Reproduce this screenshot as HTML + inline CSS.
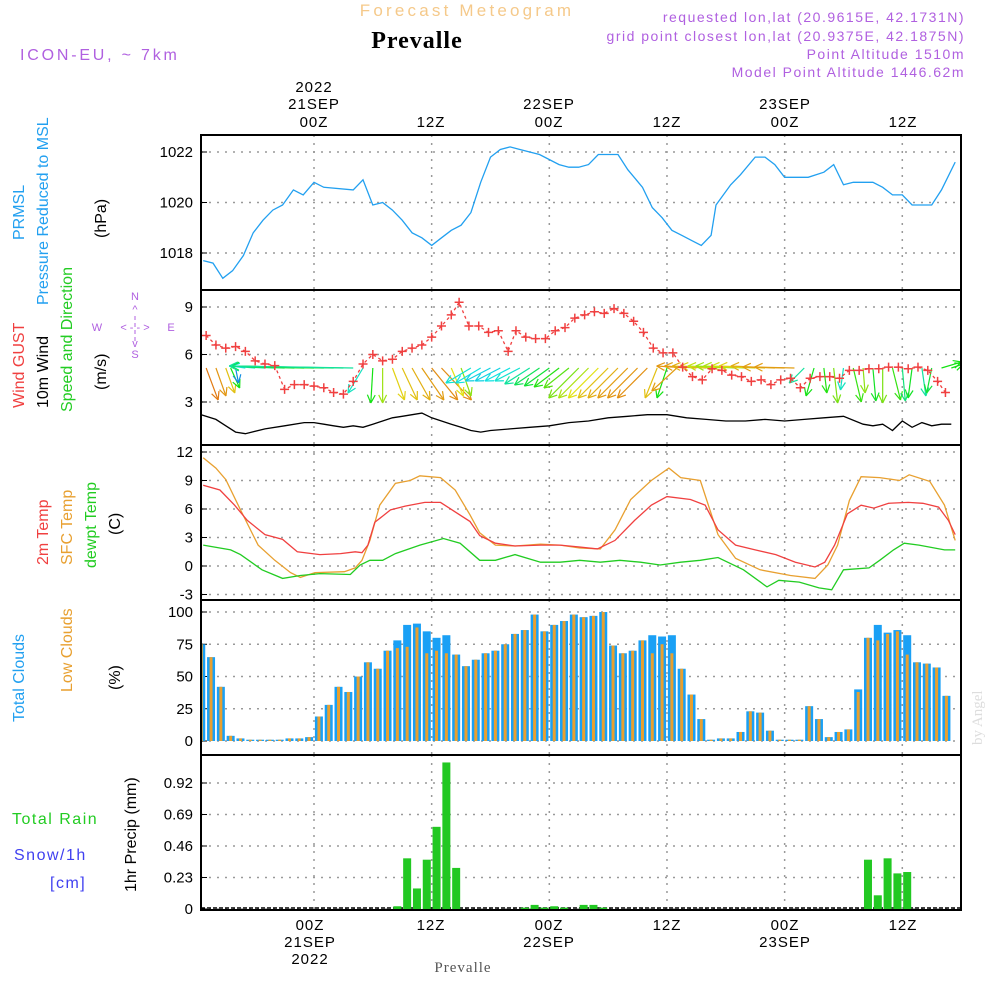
<!DOCTYPE html>
<html><head><meta charset="utf-8"><style>
html,body{margin:0;padding:0;background:#fff;}
svg{display:block;font-family:"Liberation Sans",sans-serif;}
</style></head><body>
<svg id="chart" width="1000" height="1000" viewBox="0 0 1000 1000" xmlns="http://www.w3.org/2000/svg">
<text x="467" y="16" font-size="17" fill="#f5c98a" text-anchor="middle" letter-spacing="3.2">Forecast Meteogram</text>
<text x="417" y="48" font-size="24" font-weight="bold" font-family="Liberation Serif,serif" text-anchor="middle" letter-spacing="1">Prevalle</text>
<text x="20" y="60" font-size="16" fill="#b060e0" letter-spacing="2.8">ICON-EU, ~ 7km</text>
<g font-size="14" fill="#b060e0" text-anchor="end" letter-spacing="1.5">
<text x="965" y="22">requested lon,lat (20.9615E, 42.1731N)</text>
<text x="965" y="41">grid point closest lon,lat (20.9375E, 42.1875N)</text>
<text x="965" y="59">Point Altitude 1510m</text>
<text x="965" y="77">Model Point Altitude 1446.62m</text>
</g>
<g font-size="15" text-anchor="middle" letter-spacing="1">
<text x="314" y="92">2022</text><text x="314" y="109">21SEP</text><text x="314" y="127">00Z</text>
<text x="431" y="127">12Z</text>
<text x="549" y="109">22SEP</text><text x="549" y="127">00Z</text>
<text x="667" y="127">12Z</text>
<text x="785" y="109">23SEP</text><text x="785" y="127">00Z</text>
<text x="903" y="127">12Z</text>
</g>
<g font-size="15" text-anchor="middle" letter-spacing="1">
<text x="310" y="930">00Z</text><text x="310" y="947">21SEP</text><text x="310" y="964">2022</text>
<text x="431" y="930">12Z</text>
<text x="549" y="930">00Z</text><text x="549" y="947">22SEP</text>
<text x="667" y="930">12Z</text>
<text x="785" y="930">00Z</text><text x="785" y="947">23SEP</text>
<text x="903" y="930">12Z</text>
</g>
<text x="463" y="972" font-size="15" font-family="Liberation Serif,serif" fill="#555" text-anchor="middle" letter-spacing="1">Prevalle</text>
<text transform="translate(982,745) rotate(-90)" font-size="15" font-family="Liberation Serif,serif" fill="#ddd">by Angel</text>
<g font-size="16">
<text transform="translate(24,240) rotate(-90)" fill="#22a0f0">PRMSL</text>
<text transform="translate(48,305) rotate(-90)" fill="#22a0f0">Pressure Reduced to MSL</text>
<text transform="translate(106,238) rotate(-90)">(hPa)</text>
<text transform="translate(24,408) rotate(-90)" fill="#f04040">Wind GUST</text>
<text transform="translate(48,408) rotate(-90)">10m Wind</text>
<text transform="translate(72,412) rotate(-90)" fill="#22cc22">Speed and Direction</text>
<text transform="translate(106,390) rotate(-90)">(m/s)</text>
<text transform="translate(48,565) rotate(-90)" fill="#f04040">2m Temp</text>
<text transform="translate(72,565) rotate(-90)" fill="#e8a030">SFC Temp</text>
<text transform="translate(96,568) rotate(-90)" fill="#22cc22">dewpt Temp</text>
<text transform="translate(120,535) rotate(-90)">(C)</text>
<text transform="translate(24,722) rotate(-90)" fill="#22a0f0">Total Clouds</text>
<text transform="translate(72,692) rotate(-90)" fill="#e8a030">Low Clouds</text>
<text transform="translate(120,690) rotate(-90)">(%)</text>
<text x="12" y="824" fill="#22cc22" letter-spacing="1.5">Total  Rain</text>
<text x="14" y="860" fill="#4040f0" letter-spacing="1.5">Snow/1h</text>
<text x="50" y="888" fill="#4040f0" letter-spacing="1.5">[cm]</text>
<text transform="translate(136,892) rotate(-90)">1hr Precip (mm)</text>
</g>
<g font-size="11" fill="#b060e0" text-anchor="middle">
<text x="135" y="300">N</text><text x="135" y="313">^</text>
<text x="97" y="331">W</text><text x="135" y="331">&lt; -  -  &gt;</text><text x="171" y="331">E</text>
<text x="135" y="347">v</text><text x="135" y="358">S</text>
<line x1="135" y1="316" x2="135" y2="342" stroke="#b060e0" stroke-width="1" stroke-dasharray="4,3"/>
</g>
<g id="plots"></g>
</svg>
<script>
// ---- data (time in hours from 00Z 21SEP) ----
const pressHours=[-11.3,-10.3,-9.3,-8.3,-7.2,-6.2,-5.2,-4.2,-3.2,-2.1,-1.1,0,1,4,5,6,7,8,9,10,11,12,13,14,15,16,17,18,19,20,21,23,25,26,27,28,29,31,32,33.5,34.5,35.5,36.5,37.5,38.5,39.5,40.5,41,42.5,43.5,45,46,47,48,50.4,52,53,54,55,57,58,59,60,61,62,63,64,65.4];
const pressVals=[1017.7,1017.6,1017.0,1017.3,1017.9,1018.8,1019.3,1019.7,1019.9,1020.5,1020.3,1020.8,1020.6,1020.5,1020.9,1019.9,1020.0,1019.7,1019.3,1018.8,1018.6,1018.3,1018.6,1018.9,1019.1,1019.6,1020.8,1021.8,1022.1,1022.2,1022.1,1021.9,1021.5,1021.4,1021.4,1021.5,1021.9,1021.9,1021.3,1020.6,1019.8,1019.4,1018.9,1018.7,1018.5,1018.3,1018.7,1019.9,1020.7,1021.1,1021.8,1021.8,1021.5,1021.0,1021.0,1021.2,1021.5,1020.7,1020.8,1020.8,1020.6,1020.3,1020.3,1019.9,1019.9,1019.9,1020.5,1021.6];
const pressTicks=[1018,1020,1022];

const gustHours=[-11,-10,-9,-8,-7,-6,-5,-4,-3,-2,-1,0,1,2,3,4,5,6,7,8,9,10,11,12,13,14,14.8,15.8,16.8,17.8,18.8,19.8,20.6,21.6,22.6,23.6,24.6,25.6,26.6,27.6,28.6,29.6,30.6,31.6,32.6,33.6,34.6,35.6,36.6,37.6,38.6,39.6,40.6,41.6,42.6,43.6,44.6,45.6,46.6,47.6,48.6,49.6,50.6,51.6,52.6,53.6,54.6,55.6,56.6,57.6,58.6,59.6,60.6,61.6,62.6,63.6,64.4];
const gustVals=[7.2,6.6,6.4,6.5,6.2,5.6,5.4,5.3,3.8,4.1,4.1,4.0,3.9,3.6,3.5,4.3,5.4,6.0,5.6,5.7,6.2,6.4,6.6,7.1,7.8,8.5,9.3,7.8,7.8,7.4,7.5,6.2,7.5,7.1,7.0,7.0,7.5,7.7,8.3,8.5,8.7,8.6,8.9,8.6,8.1,7.4,6.4,6.1,6.1,5.2,4.6,4.4,5.1,5.0,4.7,4.6,4.3,4.4,4.1,4.4,4.5,3.9,4.5,4.6,4.6,4.5,5.0,5.0,5.1,5.1,5.2,5.2,5.1,5.2,5.0,4.3,3.6];
const windHours=[-11.5,-10,-9,-8,-7,-5,-3,-1,0,1,2,3,4,5,6,7,8,9,10,11,12,13,14,15,16,17,18,20,22,24,26,28,30,32,34,36,38,40,42,44,46,48,50,52,54,56,57,58,59,60,61,62,63,64,65];
const windVals=[2.2,1.9,1.5,1.1,1.0,1.3,1.5,1.7,1.7,1.6,1.5,1.4,1.5,1.4,1.6,1.8,2.0,2.1,2.2,2.3,2.0,1.8,1.6,1.4,1.2,1.1,1.2,1.3,1.4,1.5,1.7,1.8,2.0,2.1,2.2,2.2,2.0,1.9,1.8,1.8,1.9,1.8,1.9,2.0,2.1,1.6,1.5,1.6,1.2,1.8,1.4,1.7,1.5,1.6,1.6];
const windTicks=[3,6,9];
// wind vectors: u (east), v (north), m/s-ish; hue of arrow
const arrowHours=[-11,-10,-9,-8.5,-8,-7,-6,-5,-4,-3,-2,-1,0,1,2,3,4,5,6,7,8,9,10,11,12,13,14,15,16,17,18,19,20,21,22,23,24,25,26,27,28,29,30,31,32,33,34,35,36,37,38,39,40,41,42,43,44,45,46,47,48,49,50,51,52,53,54,55,56,57,58,59,60,61,62,63,64,65];
const arrowU=[1.2,1.0,0.9,0.9,0.3,-1.4,-2.4,-3.4,-4.4,-5.4,-6.4,-7.4,-8.4,-9.4,-10.4,-11.4,-12.4,-1.5,-0.2,0,1.2,1.5,1.8,2.2,2.6,3.0,1.2,1.0,-2.5,-2.5,-2.5,-2.5,-2.5,-2.5,-2.5,-2.5,-2.5,-2.5,-2.5,-3,-3,-3,-3,-3,-3,-3,-3,-1.2,-1,-2.5,-3,-3.2,-3.4,-3.6,-3.8,-4,-4.2,-4.4,-4.6,-4.4,-4.2,-4,-1.5,-0.8,0.3,0.4,-0.3,0.8,0.2,0.3,0,0.8,0.3,-0.4,0.4,-0.5,2,1.2];
const arrowV=[-3.2,-2.8,-2.5,-2.0,-1.5,0.2,0.2,0.2,0.2,0.2,0.2,0.2,0.2,0.2,0.2,0.2,0.2,-2.5,-3.5,-3.5,-3.2,-3.2,-3.2,-3.2,-3.2,-3.2,-2.8,-2.8,-1.5,-1.5,-1.3,-1.3,-1.3,-1.3,-1.6,-1.7,-1.8,-1.9,-2,-3,-3,-3,-3,-3,-3,-3,-3,-3,-3,-2.3,0.2,0.2,0.2,0.2,0.2,0.2,0.2,0.2,0.2,0.2,0.1,0.1,-1.5,-2.8,-2.5,-3.5,-2.2,-3.4,-2.5,-3.3,-3.5,-3.2,-3.3,-3,-2.8,-2.5,0.6,0.4];
const arrowHue=[30,38,50,120,205,180,175,165,150,140,130,125,120,125,135,145,160,170,120,80,55,50,45,40,35,35,60,85,175,180,185,185,180,175,160,140,130,115,100,90,75,60,50,45,40,38,36,50,120,40,38,40,45,55,70,80,75,65,55,45,40,40,160,120,115,90,170,110,85,125,90,110,150,125,160,130,120,120];

const tempHours=[-11.3,-9.6,-8.1,-6.8,-5.0,-3.2,-1.7,0.6,2.7,4.2,4.9,5.5,6.2,7.8,9.3,11.3,12.9,14.4,15.9,16.9,18.5,20.5,23.1,25.1,27.1,28.9,30.7,32.7,34.4,36.0,38.4,39.9,41.2,43.0,45.0,47.1,49.1,51.1,52.1,53.1,54.4,55.8,57.1,58.6,60.6,62.1,63.7,64.7,65.4];
const tempVals=[8.5,8.0,6.4,4.8,3.3,2.8,1.5,1.2,1.3,1.5,1.4,2.2,4.6,5.9,6.3,6.7,6.7,5.7,4.7,3.2,2.4,2.1,2.2,2.2,2.0,1.8,2.7,4.8,6.4,7.3,7.0,6.4,3.8,2.2,1.7,1.2,0.4,-0.1,0.4,2.2,5.5,6.4,6.1,6.6,6.7,6.6,6.2,4.8,3.3];
const sfcHours=[-11.3,-10.0,-9.0,-7.5,-5.7,-4.0,-2.4,-1.4,0.1,3.1,4.2,4.9,5.7,6.7,8.3,9.8,10.8,12.9,14.4,15.9,16.9,18.5,20.5,23.1,25.1,27.1,29.2,30.7,32.3,34.4,36.2,37.4,39.4,41.2,43.0,45.5,48.6,51.1,52.4,53.4,54.6,55.8,57.7,59.7,60.7,62.8,64.3,65.4];
const sfcVals=[11.4,10.3,9.1,5.9,2.2,0.6,-0.7,-1.2,-0.7,-0.6,-0.2,0.6,2.7,6.4,8.7,9.0,9.5,9.3,8.0,5.4,3.5,2.2,2.1,2.3,2.2,1.9,1.8,3.8,7.0,9.0,10.3,9.3,9.0,3.3,0.8,-0.4,-1.0,-1.3,0.1,2.2,6.9,9.4,9.3,9.0,9.6,8.9,6.4,2.7];
const dewHours=[-11.3,-8.5,-7.5,-5.3,-3.2,-1.4,0.6,3.7,4.7,5.7,7.0,8.3,10.8,13.2,14.9,16.9,18.5,20.5,23.1,25.1,27.1,29.2,31.2,33.3,35.3,37.4,39.4,41.2,43.8,46.2,47.4,49.5,51.5,52.8,54.0,56.6,57.7,59.1,60.2,61.7,64.3,65.4];
const dewVals=[2.2,1.7,1.2,-0.4,-1.3,-1.0,-0.8,-0.9,0.1,0.6,0.6,1.3,2.2,2.9,2.4,0.6,0.6,1.2,0.4,0.4,0.6,0.4,0.6,0.4,0.1,0.4,0.6,0.9,-0.4,-2.2,-1.5,-1.7,-2.3,-2.5,-0.4,-0.2,0.6,1.7,2.4,2.2,1.7,1.7];
const tempTicks=[-3,0,3,6,9,12];

const barStart=-11.5; // hour of first hourly bar
const totalClouds=[75,65,42,4,2,1,1,1,1,2,2,3,19,28,42,38,50,61,56,70,78,90,91,85,80,82,67,58,63,68,70,75,83,86,98,85,90,93,98,96,97,100,74,68,70,78,82,81,82,56,36,17,1,2,2,7,23,22,8,1,1,1,27,17,3,7,9,40,80,90,84,86,82,61,60,57,35];
const lowClouds=[75,65,42,4,2,1,1,1,1,2,2,3,19,28,42,38,50,61,56,70,72,73,88,68,70,68,67,58,63,68,70,75,83,86,98,85,90,93,98,96,97,100,74,68,70,78,68,75,68,56,36,17,1,2,2,7,23,22,8,1,1,1,27,17,3,7,9,38,80,78,83,85,67,61,60,57,35];
const cloudTicks=[0,25,50,75,100];
const precip=[0,0,0,0,0,0,0,0,0,0,0,0,0,0,0,0,0,0,0,0,0.02,0.37,0.15,0.36,0.6,1.07,0.3,0,0,0,0,0,0,0.01,0.03,0.01,0.02,0.01,0,0.03,0.03,0.01,0,0,0,0,0,0,0,0,0,0,0,0,0,0,0,0,0,0,0,0,0,0,0,0,0,0,0.36,0.1,0.37,0.26,0.27,0,0,0,0];
const precipTicks=[0,0.23,0.46,0.69,0.92];
const timeTicks=[0,12,24,36,48,60];

// ---- rendering ----
const NS='http://www.w3.org/2000/svg';
const root=document.getElementById('plots');
const X0=201,X1=961;
const xOf=h=>314+h*9.805;
function el(tag,attrs,parent){const e=document.createElementNS(NS,tag);for(const k in attrs)e.setAttribute(k,attrs[k]);(parent||root).appendChild(e);return e;}
function lin(d0,d1,r0,r1){return v=>r0+(v-d0)*(r1-r0)/(d1-d0);}
const panels=[{y0:135,y1:290},{y0:290,y1:445},{y0:445,y1:600},{y0:600,y1:755},{y0:755,y1:910}];
const clip=el('clipPath',{id:'pc'});el('rect',{x:X0,y:135,width:X1-X0,height:775},clip);

function grid(p,yScale,ticks,fmt,name){
  const g=el('g',{});
  
  
  timeTicks.forEach(t=>{el('line',{x1:xOf(t),x2:xOf(t),y1:p.y0,y2:p.y1,stroke:'#999','stroke-width':1.5,'stroke-dasharray':'2,6'},g);});
  ticks.forEach(v=>{const y=yScale(v);
    el('line',{x1:X0,x2:X1,y1:y,y2:y,stroke:'#999','stroke-width':1.5,'stroke-dasharray':'2,6'},g);
    el('line',{x1:X0,x2:X0+6,y1:y,y2:y,stroke:'#000'},g);
    const t=el('text',{x:X0-8,y:y+5,'font-size':15,'text-anchor':'end'},g);t.textContent=fmt(v);});
}
function line(hours,vals,yScale,color,name){
  const d=hours.map((h,i)=>(i?'L':'M')+xOf(h).toFixed(1)+','+yScale(vals[i]).toFixed(1)).join('');
  const p=el('path',{d:d,fill:'none',stroke:color,'stroke-width':1.3,'clip-path':'url(#pc)'});
  
  
  return p;
}
// panel 1 pressure
const yP=lin(1022,1018,152,253);
grid(panels[0],yP,pressTicks,v=>v,'pressure');
line(pressHours,pressVals,yP,'#22a0f0','pressure-line');
// panel 2 wind
const yW=lin(3,9,402,307);
grid(panels[1],yW,windTicks,v=>v,'wind');
arrowHours.forEach((h,i)=>{
  const x=xOf(h),y=368,s=10,dx=arrowU[i]*s,dy=-arrowV[i]*s,len=Math.hypot(dx,dy)||1;
  const ux=dx/len,uy=dy/len,ex=x+dx,ey=y+dy,c='hsl('+arrowHue[i]+',85%,48%)';
  const g=el('g',{stroke:c,'stroke-width':1.2,fill:'none','clip-path':'url(#pc)'});
  
  
  el('line',{x1:x,y1:y,x2:ex,y2:ey},g);
  const a=0.45,hl=9;
  [a,-a].forEach(r=>{const cx=Math.cos(r),sx=Math.sin(r);
    el('line',{x1:ex,y1:ey,x2:ex-hl*(ux*cx-uy*sx),y2:ey-hl*(ux*sx+uy*cx)},g);});
});
line(windHours,windVals,yW,'#000','wind-speed-line');
line(gustHours,gustVals,yW,'#f04040','wind-gust-line').setAttribute('stroke-dasharray','3,3');
gustHours.forEach((h,i)=>{const x=xOf(h),y=yW(gustVals[i]);
  const m=el('path',{d:`M${x-4.5},${y}H${x+4.5}M${x},${y-4.5}V${y+4.5}`,stroke:'#f04040','stroke-width':1.5,'clip-path':'url(#pc)'});
  
  });
// panel 3 temp
const yT=lin(0,12,566,452);
grid(panels[2],yT,tempTicks,v=>v,'temperature');
line(sfcHours,sfcVals,yT,'#e8a030','sfc-temp-line');
line(tempHours,tempVals,yT,'#f04040','2m-temp-line');
line(dewHours,dewVals,yT,'#22cc22','dewpoint-line');
// panel 4 clouds
const yC=lin(0,100,741,612);
grid(panels[3],yC,cloudTicks,v=>v,'clouds');
totalClouds.forEach((v,i)=>{const x=xOf(barStart+i);
  const b=el('rect',{x:x-4,y:yC(v),width:8,height:yC(0)-yC(v),fill:'#1aa0f5','clip-path':'url(#pc)'});
  
  
  const l=el('rect',{x:x-1.5,y:yC(lowClouds[i]),width:3,height:yC(0)-yC(lowClouds[i]),fill:'#e8a030','clip-path':'url(#pc)'});
  
  });
// panel 5 precip
const yR=lin(0,0.92,909,783);
grid(panels[4],yR,precipTicks,v=>v,'precip');
el('line',{x1:X0,x2:X1,y1:908,y2:908,stroke:'#000','stroke-width':1.5,'stroke-dasharray':'4,2'});
precip.forEach((v,i)=>{if(v<=0)return;const x=xOf(barStart+i);
  const b=el('rect',{x:x-4,y:yR(v),width:8,height:yR(0)-yR(v),fill:'#22c822','clip-path':'url(#pc)'});
  
  });
// frames
panels.forEach((p,i)=>{const r=el('rect',{x:X0,y:p.y0,width:X1-X0,height:p.y1-p.y0,fill:'none',stroke:'#000','stroke-width':2});
  
  });
</script>
</body></html>
